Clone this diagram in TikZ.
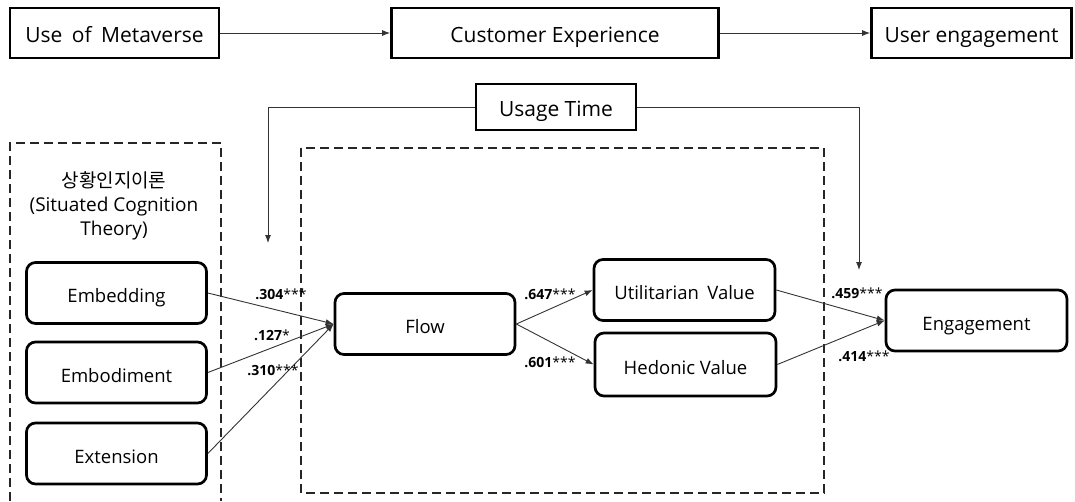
\documentclass[tikz,border=0pt]{standalone}
\usepackage{fontspec}
\setmainfont{Open Sans}
\newfontfamily\kofont{Noto Sans CJK KR}
\usetikzlibrary{arrows.meta}
\begin{document}
\begin{tikzpicture}[x=1pt,y=-1pt,
  topbox/.style={draw=black,line width=2.7pt,minimum height=50pt,font=\fontsize{21}{25}\selectfont,inner sep=0pt,text height=20pt,text depth=2pt},
  rbox/.style={draw=black,line width=2.7pt,rounded corners=9pt,minimum width=180pt,minimum height=61pt,font=\fontsize{18.5}{22}\selectfont,inner sep=0pt,text height=20pt,text depth=1pt},
  conn/.style={draw=black!80,line width=0.9pt,-{Latex[length=8pt,width=6pt]}},
  dbox/.style={draw=black!85,line width=2.8pt,dash pattern=on 9pt off 5pt},
  lab/.style={font=\fontsize{14}{16}\selectfont,inner sep=0pt}
]
\useasboundingbox (0,0) rectangle (1075,501);
% top row
\node[topbox,minimum width=209pt] (meta) at (114.5,33) {Use\hspace{0.45em}of\hspace{0.45em}Metaverse};
\node[topbox,minimum width=327pt] (cx) at (555,33) {Customer Experience};
\node[topbox,minimum width=200pt] (ue) at (971.5,33) {User engagement};
\draw[conn] (meta) -- (cx);
\draw[conn] (cx) -- (ue);
% dashed frames
\draw[dbox] (10,501) -- (10,143) -- (221,143) -- (221,501);
\draw[dbox] (301,148) rectangle (824,493);
% usage time
\node[topbox,minimum width=160pt,minimum height=46pt] (ut) at (556,107) {Usage Time};
\coordinate (utl) at (268,243);
\coordinate (utr) at (859,270);
\draw[conn] (ut.west) -| (utl);
\draw[conn] (ut.east) -| (utr);
% theory text
\node[align=center,font=\fontsize{19}{24}\selectfont,inner sep=0pt] (theory) at (114,206)
  {{\kofont 상황인지이론}\\(Situated Cognition\\Theory)};
% nodes
\node[rbox] (emb) at (116.5,293) {Embedding};
\node[rbox] (embo) at (116.5,372.5) {Embodiment};
\node[rbox] (ext) at (116.5,453.5) {Extension};
\node[rbox] (flow) at (425,324) {Flow};
\node[rbox,minimum width=181pt] (uv) at (684.5,290) {Utilitarian\hspace{0.45em}Value};
\node[rbox,minimum width=181pt,minimum height=63pt] (hv) at (685.5,364.5) {Hedonic Value};
\node[rbox,minimum width=181pt] (eng) at (976.5,320.5) {Engagement};
% connectors
\draw[conn] (emb.east) -- (flow.west);
\draw[conn] (embo.east) -- (flow.west);
\draw[conn] (ext.east) -- (flow.west);
\draw[conn] (flow.east) -- (uv.west);
\draw[conn] (flow.east) -- (hv.west);
\draw[conn] (uv.east) -- (eng.west);
\draw[conn] (hv.east) -- (eng.west);
% labels
\node[lab] (l1) at (281,294) {\textbf{.304}***};
\node[lab] (l2) at (272,335) {\textbf{.127}*};
\node[lab] (l3) at (273,370) {\textbf{.310}***};
\node[lab] (l4) at (550,294) {\textbf{.647}***};
\node[lab] (l5) at (550,362) {\textbf{.601}***};
\node[lab] (l6) at (857,293) {\textbf{.459}***};
\node[lab] (l7) at (864,356) {\textbf{.414}***};
\end{tikzpicture}
\end{document}
